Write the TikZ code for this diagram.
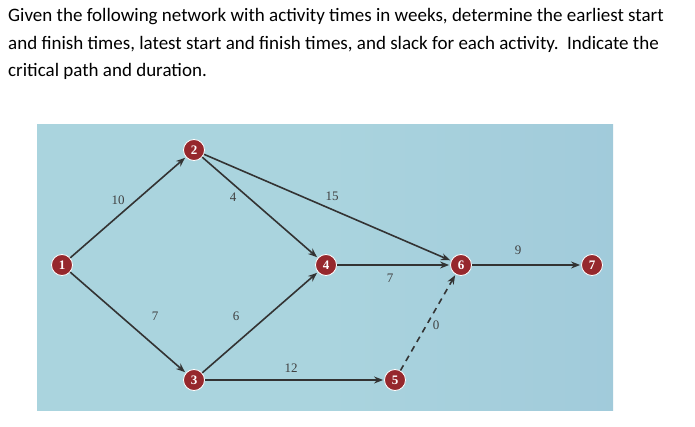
\documentclass[tikz,border=0pt]{standalone}
\usepackage{fontspec}
\setmainfont{Carlito}
\newfontfamily\numfont{Liberation Serif}
\usetikzlibrary{arrows.meta}
\definecolor{nodered}{RGB}{150,40,45}
\definecolor{bgblue}{RGB}{170,212,222}
\definecolor{bgright}{RGB}{140,180,210}
\begin{document}
\begin{tikzpicture}[x=1pt,y=-1pt,
  ev/.style={circle,draw=white,line width=0.8pt,fill=nodered,minimum size=21pt,inner sep=0pt,text=white,font=\numfont\bfseries\fontsize{13}{13}\selectfont},
  act/.style={draw=black!80,line width=1.6pt,-{Stealth[length=9pt,width=7pt]},shorten >=1pt},
  lab/.style={font=\numfont\fontsize{13}{13}\selectfont,text=black!75},
  txt/.style={anchor=base west,font=\fontsize{19}{19}\selectfont,inner sep=0pt}]
\useasboundingbox (0,0) rectangle (695,427);
\fill[white] (0,0) rectangle (695,427);
\shade[left color=bgblue,right color=bgblue!70!bgright,middle color=bgblue] (37,125) rectangle (613,410);
\node[txt] (t1) at (8,22) {Given the following network with activity times in weeks, determine the earliest start};
\node[txt] (t2) at (8,50) {and finish times, latest start and finish times, and slack for each activity.\ \ Indicate the};
\node[txt] (t3) at (8,77) {critical path and duration.};
\node[ev] (n1) at (62,265) {1};
\node[ev] (n2) at (194,150) {2};
\node[ev] (n3) at (194,380) {3};
\node[ev] (n4) at (326,265) {4};
\node[ev] (n5) at (395,380) {5};
\node[ev] (n6) at (461,265) {6};
\node[ev] (n7) at (592,265) {7};
\draw[act] (n1) -- (n2);
\draw[act] (n1) -- (n3);
\draw[act] (n2) -- (n4);
\draw[act] (n2) -- (n6);
\draw[act] (n3) -- (n4);
\draw[act] (n3) -- (n5);
\draw[act] (n4) -- (n6);
\draw[act] (n6) -- (n7);
\draw[act,dashed,dash pattern=on 6pt off 5pt] (n5) -- (n6);
\node[lab] (l10) at (118,200) {10};
\node[lab] (l4a) at (233,197) {4};
\node[lab] (l15) at (332,196) {15};
\node[lab] (l7a) at (155,316) {7};
\node[lab] (l6) at (236,316) {6};
\node[lab] (l7b) at (390,278) {7};
\node[lab] (l9) at (518,250) {9};
\node[lab] (l12) at (291,368) {12};
\node[lab] (l0) at (436,325) {0};
\end{tikzpicture}
\end{document}
